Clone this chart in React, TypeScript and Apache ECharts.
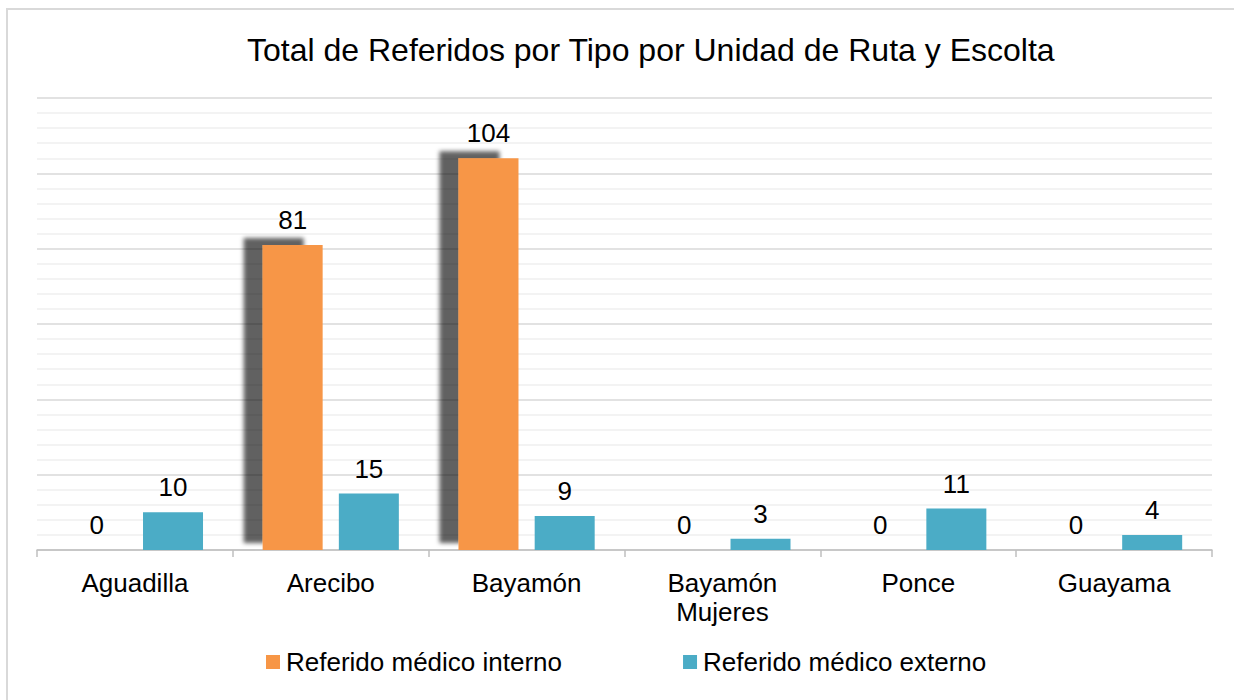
import React, { useEffect, useRef } from "react";
import * as echarts from "echarts";

const categories = ["Aguadilla", "Arecibo", "Bayamón", "Bayamón\nMujeres", "Ponce", "Guayama"];
const internoValues = [0, 81, 104, 0, 0, 0];
const externoValues = [10, 15, 9, 3, 11, 4];
const seriesNames = ["Referido médico interno", "Referido médico externo"];
const titleText = "Total de Referidos por Tipo por Unidad de Ruta y Escolta";

const FONT = "'Liberation Sans', Arial, sans-serif";

export default function App() {
  const ref = useRef<HTMLDivElement>(null);
  useEffect(() => {
    if (!ref.current) return;
    const chart = echarts.init(ref.current, null, { renderer: "svg" });
    chart.setOption({
      animation: false,
      backgroundColor: "#ffffff",
      textStyle: { fontFamily: FONT },
      title: {
        text: titleText,
        left: 247,
        top: 34,
        padding: 0,
        textStyle: { fontFamily: FONT, fontSize: 32, fontWeight: "normal", color: "#000" },
      },
      graphic: [
        {
          type: "rect",
          shape: { x: 7, y: 9, width: 1240, height: 720 },
          style: { fill: "none", stroke: "#d9d9d9", lineWidth: 2 },
          silent: true,
        },
      ],
      legend: {
        left: 266,
        top: 649,
        padding: 0,
        itemWidth: 14,
        itemHeight: 14,
        itemGap: 121,
        icon: "rect",
        textStyle: { fontFamily: FONT, fontSize: 26, color: "#000", padding: [0, 0, 0, 1] },
        data: seriesNames,
      },
      grid: { left: 37, right: 22, top: 98, bottom: 150, containLabel: false },
      xAxis: {
        type: "category",
        data: categories,
        axisLine: { show: true, lineStyle: { color: "#bfbfbf", width: 1.5 } },
        axisTick: { show: true, length: 7, lineStyle: { color: "#bfbfbf", width: 1.5 } },
        axisLabel: {
          fontFamily: FONT,
          fontSize: 26,
          color: "#000",
          margin: 18,
          lineHeight: 29,
          interval: 0,
        },
      },
      yAxis: {
        type: "value",
        min: 0,
        max: 120,
        interval: 20,
        axisLabel: { show: false },
        axisLine: { show: false },
        axisTick: { show: false },
        splitLine: { show: true, lineStyle: { color: "#d9d9d9", width: 1.5 } },
        minorTick: { show: false, splitNumber: 5 },
        minorSplitLine: { show: true, lineStyle: { color: "#efefef", width: 1.5 } },
      },
      series: [
        {
          name: seriesNames[0],
          type: "bar",
          data: internoValues,
          barWidth: 60,
          barGap: "27%",
          itemStyle: {
            color: "#F79646",
            shadowColor: "rgba(0,0,0,0.62)",
            shadowBlur: 4,
            shadowOffsetX: -19,
            shadowOffsetY: -7,
          },
          label: {
            show: true,
            position: "top",
            distance: 12,
            fontFamily: FONT,
            fontSize: 26,
            color: "#000",
          },
        },
        {
          name: seriesNames[1],
          type: "bar",
          data: externoValues,
          barWidth: 60,
          barGap: "27%",
          itemStyle: { color: "#4BACC6" },
          label: {
            show: true,
            position: "top",
            distance: 12,
            fontFamily: FONT,
            fontSize: 26,
            color: "#000",
          },
        },
      ],
    });
    return () => chart.dispose();
  }, []);
  return (
    <div
      ref={ref}
      style={{ position: "absolute", left: 0, top: 0, width: 1234, height: 700 }}
    />
  );
}
